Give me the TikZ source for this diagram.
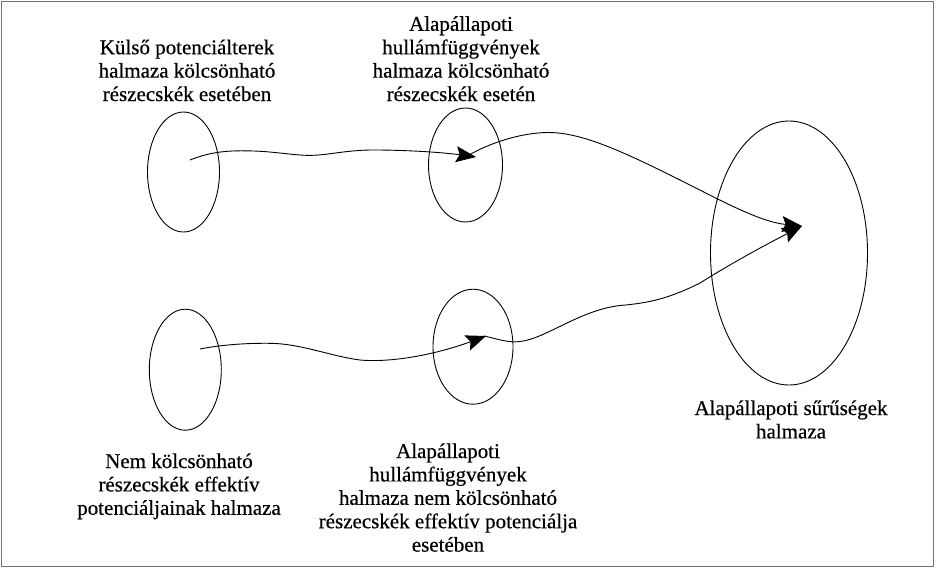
\documentclass[tikz,border=0pt]{standalone}
\usepackage{fontspec}
\setmainfont{Liberation Serif}
\newfontfamily\lblfont[FakeBold=0.5]{Liberation Serif}
\usetikzlibrary{shapes.geometric,arrows.meta}
\begin{document}
\begin{tikzpicture}[x=1pt,y=-1pt,
  set/.style={ellipse,draw,line width=0.9pt,inner sep=0pt},
  % base anchor sits on the last line of a multi-line label
  lbl/.style={align=center,anchor=base,inner sep=0pt,
              font=\lblfont\fontsize{21}{23.4}\selectfont},
  link/.style={line width=0.9pt,
               -{Stealth[length=20pt,width=16pt,inset=3.5pt]}}]
\useasboundingbox (0,0) rectangle (936,574);
% outer frame
\draw[black!55,line width=1pt] (1,1) rectangle (933,566);

% sets
\node[set,minimum width=72pt,minimum height=120pt]  (ext)   at (183.5,172) {};
\node[set,minimum width=74pt,minimum height=114pt]  (gsint) at (465.5,165) {};
\node[set,minimum width=72pt,minimum height=121pt]  (eff)   at (185.3,369.7) {};
\node[set,minimum width=80pt,minimum height=115pt]  (gsnon) at (473,346.7) {};
\node[set,minimum width=157pt,minimum height=264pt] (dens)  at (789,253) {};

% labels
\node[lbl] (lext) at (187,101)
  {Külső potenciálterek\\halmaza kölcsönható\\részecskék esetében};
\node[lbl] (lgsint) at (461,101)
  {Alapállapoti\\hullámfüggvények\\halmaza kölcsönható\\részecskék esetén};
\node[lbl] (leff) at (179,514.8)
  {Nem kölcsönható\\részecskék effektív\\potenciáljainak halmaza};
\node[lbl] (lgsnon) at (448,551.6)
  {Alapállapoti\\hullámfüggvények\\halmaza nem kölcsönható\\részecskék effektív potenciálja\\esetében};
\node[lbl] (ldens) at (791,438.4)
  {Alapállapoti sűrűségek\\halmaza};

% end points of the mappings inside the sets
\coordinate (s1) at (190,160);
\coordinate (t1) at (476,157);
\coordinate (s2) at (469,155);
\coordinate (t2) at (802,226);
\coordinate (s3) at (200,349);
\coordinate (t3) at (486,336);
\coordinate (s4) at (484,336);

% mappings
\draw[link] (s1) .. controls (205,154) and (220,150.5) .. (245,150.8)
  .. controls (275,151) and (295,156) .. (313,155.3)
  .. controls (330,154.7) and (345,150.5) .. (370,150)
  .. controls (400,149.8) and (440,152) .. (t1);
\draw[link] (s2) .. controls (490,143) and (520,133) .. (547,132.5)
  .. controls (580,132) and (620,150) .. (680,180)
  .. controls (720,200) and (760,222) .. (t2);
\draw[link] (s3) .. controls (220,345) and (245,343) .. (270,343.3)
  .. controls (300,343.5) and (330,356) .. (360,360)
  .. controls (395,363) and (440,353) .. (t3);
\draw[link] (s4) .. controls (498,339) and (508,343) .. (520,341.5)
  .. controls (545,339) and (580,310) .. (620,305.5)
  .. controls (650,303) and (670,298) .. (700,283)
  .. controls (740,258) and (775,240) .. (t2);
\end{tikzpicture}
\end{document}
